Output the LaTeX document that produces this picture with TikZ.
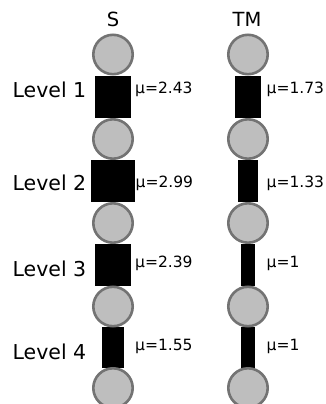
\documentclass[tikz,border=0pt]{standalone}
\usepackage{fontspec}
\setmainfont{DejaVu Sans}
\definecolor{nodefill}{HTML}{BEBEBE}
\definecolor{nodeline}{HTML}{737373}
\tikzset{
  ball/.style={circle, fill=nodefill, draw=nodeline, line width=2.6pt, minimum size=39.4pt, inner sep=0pt},
  bar/.style={rectangle, fill=black, inner sep=0pt, minimum height=42pt},
  title/.style={font=\fontsize{19.5}{23}\selectfont, anchor=base},
  levellab/.style={font=\fontsize{20.5}{24}\selectfont, anchor=base east, inner sep=0pt},
  mulab/.style={font=\fontsize{15.5}{18}\selectfont, anchor=base west, inner sep=0pt}
}
\begin{document}
\begin{tikzpicture}[x=1pt,y=-1pt]
\useasboundingbox (0,0) rectangle (325,404);
% titles
\node[title] (tS) at (113,27) {S};
\node[title] (tTM) at (247,27) {TM};
% S column bars (width = 14.7 * mu)
\node[bar, minimum width=35.7pt] (s1) at (113,97) {};
\node[bar, minimum width=44pt]   (s2) at (113,181) {};
\node[bar, minimum width=35.2pt] (s3) at (113,265) {};
\node[bar, minimum width=22.8pt, minimum height=41pt] (s4) at (113,347.5) {};
% TM column bars
\node[bar, minimum width=25.4pt] (t1) at (248,97) {};
\node[bar, minimum width=19.6pt] (t2) at (248,181) {};
\node[bar, minimum width=14.7pt] (t3) at (248,265) {};
\node[bar, minimum width=14.7pt, minimum height=41pt] (t4) at (248,347.5) {};
% S column balls
\node[ball] (sa) at (113,54.5) {};
\node[ball] (sb) at (113,139) {};
\node[ball] (sc) at (113,223) {};
\node[ball] (sd) at (113,306.5) {};
\node[ball] (se) at (113,388) {};
% TM column balls
\node[ball] (ta) at (248,54.5) {};
\node[ball] (tb) at (248,139) {};
\node[ball] (tc) at (248,223) {};
\node[ball] (td) at (248,306.5) {};
\node[ball] (te) at (248,388) {};
% level labels
\node[levellab] (l1) at (86.5,97) {Level 1};
\node[levellab] (l2) at (86.5,190) {Level 2};
\node[levellab] (l3) at (86.5,276) {Level 3};
\node[levellab] (l4) at (86.5,359) {Level 4};
% mu labels
\node[mulab] (m1) at (135,93.3) {μ=2.43};
\node[mulab] (m2) at (135.5,187.3) {μ=2.99};
\node[mulab] (m3) at (135,267) {μ=2.39};
\node[mulab] (m4) at (135,350.7) {μ=1.55};
\node[mulab] (n1) at (266.5,93.3) {μ=1.73};
\node[mulab] (n2) at (266.5,187.3) {μ=1.33};
\node[mulab] (n3) at (266.5,267) {μ=1};
\node[mulab] (n4) at (266.5,350.7) {μ=1};
\end{tikzpicture}
\end{document}
